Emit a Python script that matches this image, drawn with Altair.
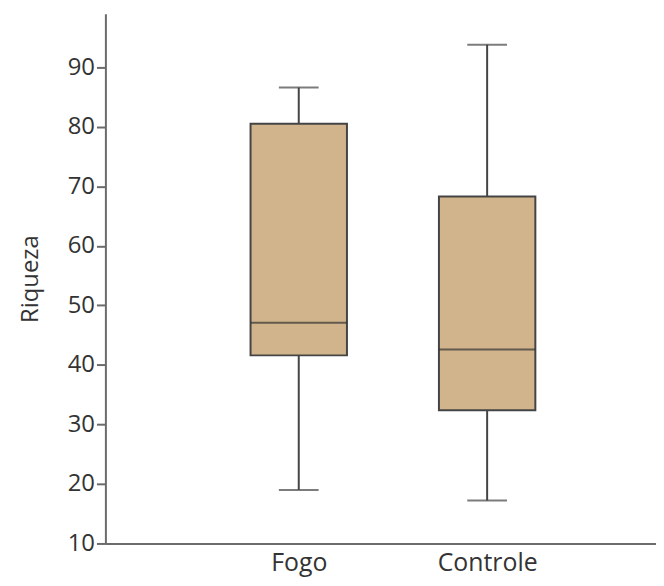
import altair as alt
import pandas as pd

groups = ["Fogo", "Controle"]
xpos = [1, 2]
mins = [19.0, 17.2]
q1s = [41.6, 32.4]
medians = [47.1, 42.6]
q3s = [80.5, 68.3]
maxs = [86.6, 93.8]

df = pd.DataFrame({"group": groups, "x": xpos, "min": mins, "q1": q1s,
                   "median": medians, "q3": q3s, "max": maxs})

xscale = alt.Scale(domain=[0, 2.87], nice=False, zero=False)
yscale = alt.Scale(domain=[10, 99], nice=False, zero=False)

xaxis = alt.Axis(values=[1, 2], labelExpr="datum.value == 1 ? 'Fogo' : 'Controle'",
                 title=None, ticks=False, grid=False, domainColor="#6b6b6b", domainWidth=2,
                 labelFont="Open Sans", labelFontSize=25, labelColor="#333333", labelPadding=7)
yaxis = alt.Axis(values=[10, 20, 30, 40, 50, 60, 70, 80, 90], title="Riqueza", grid=False,
                 domainColor="#6b6b6b", domainWidth=2, tickColor="#6b6b6b", tickWidth=2, tickSize=9,
                 labelFont="Open Sans", labelFontSize=24, labelColor="#333333", labelPadding=2,
                 titleFont="Open Sans", titleFontSize=24, titleFontWeight="normal",
                 titleColor="#333333", titlePadding=25)

base = alt.Chart(df)
X = alt.X("x:Q", scale=xscale, axis=xaxis)

lower = base.mark_rule(color="#444444", strokeWidth=2).encode(
    x=X, y=alt.Y("min:Q", scale=yscale, axis=yaxis), y2="q1:Q")
upper = base.mark_rule(color="#444444", strokeWidth=2).encode(
    x=X, y=alt.Y("q3:Q", scale=yscale), y2="max:Q")
box = base.mark_bar(size=97, color="#D2B48C", stroke="#444444", strokeWidth=2).encode(
    x=X, y=alt.Y("q1:Q", scale=yscale), y2="q3:Q")
med = base.mark_tick(size=97, thickness=2, color="#333333", orient="horizontal").encode(
    x=X, y=alt.Y("median:Q", scale=yscale))
capmin = base.mark_tick(size=40, thickness=2, color="#444444", orient="horizontal").encode(
    x=X, y=alt.Y("min:Q", scale=yscale))
capmax = base.mark_tick(size=40, thickness=2, color="#444444", orient="horizontal").encode(
    x=X, y=alt.Y("max:Q", scale=yscale))

chart = alt.layer(lower, upper, box, med, capmin, capmax).properties(
    width=554, height=533,
    background="white",
    autosize=alt.AutoSizeParams(type="none"),
    padding={"left": 98, "top": 4, "right": 0, "bottom": 36},
).configure_view(stroke="transparent", strokeWidth=0)

chart.save("out.html", embed_options={"renderer": "svg", "actions": False})
